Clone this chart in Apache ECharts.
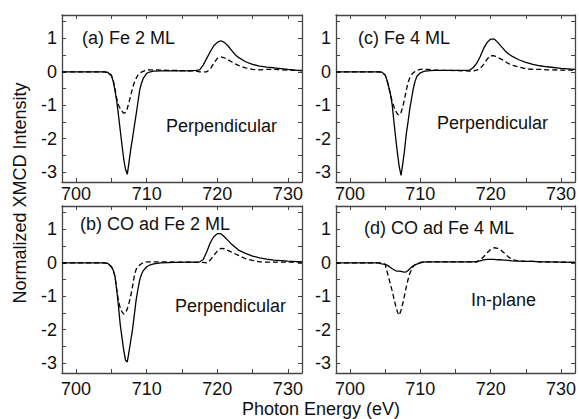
<!DOCTYPE html>
<html>
<head>
<meta charset="utf-8">
<script src="https://cdn.jsdelivr.net/npm/echarts@6/dist/echarts.min.js"></script>
<style>
html,body{margin:0;padding:0;background:#fff;}
#chart{width:579px;height:419px;}
</style>
</head>
<body>
<div id="chart"></div>
<script>
// Photon energy grid (eV)
const energy = [698, 700, 702, 703, 704, 704.5, 705, 705.25, 705.5, 705.75, 706, 706.25, 706.5, 706.75, 707, 707.25, 707.5, 707.75, 708, 708.25, 708.5, 708.75, 709, 709.25, 709.5, 710, 710.5, 711, 712, 714, 716, 717, 717.5, 718, 718.5, 719, 719.5, 720, 720.5, 721, 721.5, 722, 722.5, 723, 724, 725, 726, 727, 728, 730, 732];

// (a) Fe 2 ML, Perpendicular
const aSolid = [0, 0, 0, 0, 0, -0.02, -0.12, -0.28, -0.55, -0.88, -1.3, -1.75, -2.2, -2.62, -2.92, -3.07, -2.7, -2.3, -1.98, -1.62, -1.28, -0.92, -0.55, -0.35, -0.2, -0.05, 0, 0.02, 0.03, 0.03, 0.03, 0.04, 0.06, 0.2, 0.4, 0.6, 0.78, 0.88, 0.93, 0.88, 0.78, 0.65, 0.52, 0.43, 0.3, 0.22, 0.17, 0.14, 0.12, 0.07, 0.03];
const aDashed = [0, 0, 0, 0, 0, -0.02, -0.1, -0.25, -0.5, -0.8, -1.0, -1.1, -1.18, -1.24, -1.22, -1.1, -0.9, -0.7, -0.48, -0.32, -0.2, -0.1, -0.05, -0.01, 0.01, 0.05, 0.06, 0.06, 0.05, 0.04, 0.03, 0.02, 0, 0, 0, 0.08, 0.25, 0.4, 0.45, 0.42, 0.36, 0.3, 0.24, 0.19, 0.12, 0.07, 0.06, 0.07, 0.07, 0.05, 0.04];

// (c) Fe 4 ML, Perpendicular
const cSolid = [0, 0, 0, 0, 0, -0.01, -0.1, -0.25, -0.45, -0.68, -1.0, -1.52, -2.0, -2.45, -2.85, -3.1, -2.75, -2.35, -1.85, -1.5, -1.1, -0.8, -0.5, -0.28, -0.14, -0.03, 0.01, 0.03, 0.04, 0.04, 0.04, 0.05, 0.12, 0.25, 0.45, 0.7, 0.88, 0.98, 0.98, 0.88, 0.76, 0.64, 0.54, 0.47, 0.36, 0.28, 0.22, 0.18, 0.15, 0.1, 0.07];
const cDashed = [0, 0, 0, 0, 0, -0.01, -0.1, -0.25, -0.45, -0.68, -0.9, -1.05, -1.18, -1.27, -1.3, -1.22, -1.05, -0.8, -0.55, -0.32, -0.18, -0.08, -0.03, 0.01, 0.04, 0.07, 0.08, 0.07, 0.05, 0.04, 0.03, 0.02, 0.02, 0.05, 0.1, 0.22, 0.38, 0.48, 0.48, 0.43, 0.38, 0.32, 0.25, 0.2, 0.14, 0.09, 0.07, 0.07, 0.06, 0.05, 0.05];

// (b) CO ad Fe 2 ML, Perpendicular
const bSolid = [0, 0, 0, 0, 0, -0.02, -0.12, -0.22, -0.4, -0.8, -1.3, -1.85, -2.25, -2.62, -2.92, -2.97, -2.65, -2.32, -1.98, -1.55, -1.12, -0.8, -0.52, -0.35, -0.24, -0.12, -0.06, -0.03, 0, 0.01, 0.02, 0.02, 0.03, 0.1, 0.32, 0.6, 0.78, 0.87, 0.87, 0.78, 0.67, 0.56, 0.47, 0.38, 0.28, 0.2, 0.15, 0.11, 0.08, 0.05, 0.03];
const bDashed = [0, 0, 0, 0, 0, -0.02, -0.12, -0.22, -0.4, -0.8, -1.15, -1.35, -1.47, -1.54, -1.5, -1.38, -1.2, -0.98, -0.7, -0.38, -0.2, -0.12, -0.07, -0.03, 0, 0.03, 0.03, 0.03, 0.03, 0.02, 0.02, 0.01, 0.01, 0.01, 0, 0.08, 0.22, 0.35, 0.43, 0.42, 0.37, 0.32, 0.27, 0.22, 0.12, 0.07, 0.03, 0.02, 0.02, 0.02, 0.02];

// (d) CO ad Fe 4 ML, In-plane
const dSolid = [0, 0, 0, 0, 0, -0.03, -0.05, -0.07, -0.1, -0.14, -0.18, -0.21, -0.24, -0.25, -0.25, -0.26, -0.27, -0.28, -0.27, -0.23, -0.18, -0.13, -0.09, -0.06, -0.04, 0, 0.02, 0.03, 0.03, 0.03, 0.03, 0.03, 0.03, 0.04, 0.06, 0.09, 0.1, 0.1, 0.1, 0.09, 0.09, 0.08, 0.07, 0.06, 0.05, 0.04, 0.04, 0.03, 0.03, 0.02, 0.01];
const dDashed = [0, 0, 0, 0, 0, 0, -0.05, -0.25, -0.45, -0.65, -0.85, -1.08, -1.3, -1.48, -1.57, -1.42, -1.22, -0.97, -0.72, -0.5, -0.32, -0.2, -0.1, -0.06, -0.03, 0.01, 0.03, 0.03, 0.03, 0.03, 0.03, 0.03, 0.02, 0.02, 0.08, 0.18, 0.3, 0.4, 0.45, 0.43, 0.37, 0.28, 0.18, 0.1, 0.05, 0.04, 0.04, 0.03, 0.03, 0.02, 0.01];

// Ticks and labels
const xTickLabels = [700, 710, 720, 730];
const xTicks = [700, 705, 710, 715, 720, 725, 730];
const yTickLabels = [-3, -2, -1, 0, 1];
const yTicks = [-3, -2.5, -2, -1.5, -1, -0.5, 0, 0.5, 1, 1.5];

const panelTitles = ['(a) Fe 2 ML', '(c) Fe 4 ML', '(b) CO ad Fe 2 ML', '(d) CO ad Fe 4 ML'];
const panelNotes = ['Perpendicular', 'Perpendicular', 'Perpendicular', 'In-plane'];
const panelSeries = [[aSolid, aDashed], [cSolid, cDashed], [bSolid, bDashed], [dSolid, dDashed]];

const FONT = '"Liberation Sans", Arial, Helvetica, sans-serif';
const frameColor = '#444';

const gridPos = [
  {left: 62, top: 15}, {left: 336, top: 15},
  {left: 62, top: 206}, {left: 336, top: 206}
];
const labelMargin = [3, 3, 7, 7];

const grid = [], xAxis = [], yAxis = [], series = [];
gridPos.forEach((g, i) => {
  grid.push({left: g.left, top: g.top, width: 240, height: 167, show: false});
  const lineStyle = {color: frameColor, width: 1.3};
  const tickStyle = {color: frameColor, width: 1};
  xAxis.push({
    type: 'value', gridIndex: i, position: 'bottom', min: 698, max: 732,
    axisLine: {show: true, onZero: false, lineStyle},
    axisTick: {show: true, inside: true, length: 4, customValues: xTicks, lineStyle: tickStyle},
    axisLabel: {customValues: xTickLabels, fontSize: 18, fontFamily: FONT, color: '#111', margin: labelMargin[i]},
    splitLine: {show: false}
  });
  xAxis.push({
    type: 'value', gridIndex: i, position: 'top', min: 698, max: 732,
    axisLine: {show: true, onZero: false, lineStyle},
    axisTick: {show: true, inside: true, length: 4, customValues: xTicks, lineStyle: tickStyle},
    axisLabel: {show: false},
    splitLine: {show: false}
  });
  yAxis.push({
    type: 'value', gridIndex: i, position: 'left', min: -3.3, max: 1.7,
    axisLine: {show: true, onZero: false, lineStyle},
    axisTick: {show: true, inside: true, length: 4, customValues: yTicks, lineStyle: tickStyle},
    axisLabel: {customValues: yTickLabels, fontSize: 18, fontFamily: FONT, color: '#111', margin: 5},
    splitLine: {show: false}
  });
  yAxis.push({
    type: 'value', gridIndex: i, position: 'right', min: -3.3, max: 1.7,
    axisLine: {show: true, onZero: false, lineStyle},
    axisTick: {show: true, inside: true, length: 4, customValues: yTicks, lineStyle: tickStyle},
    axisLabel: {show: false},
    splitLine: {show: false}
  });
  const [solid, dashed] = panelSeries[i];
  series.push({
    type: 'line', xAxisIndex: 2 * i, yAxisIndex: 2 * i, showSymbol: false, silent: true,
    data: energy.map((e, k) => [e, dashed[k]]),
    lineStyle: {color: '#000', width: 1.3, type: [5, 3]}
  });
  series.push({
    type: 'line', xAxisIndex: 2 * i, yAxisIndex: 2 * i, showSymbol: false, silent: true,
    data: energy.map((e, k) => [e, solid[k]]),
    lineStyle: {color: '#000', width: 1.3, type: 'solid'}
  });
});

const titlePos = [[82, 38], [358, 38], [80, 224], [364, 228]];
const notePos = [[166, 126], [437, 123], [175, 306], [471, 300]];
const graphic = [];
panelTitles.forEach((t, i) => {
  graphic.push({type: 'text', x: titlePos[i][0], y: titlePos[i][1],
    style: {text: t, font: '18px ' + FONT, fill: '#111', verticalAlign: 'middle', align: 'left'}});
  graphic.push({type: 'text', x: notePos[i][0], y: notePos[i][1],
    style: {text: panelNotes[i], font: '18px ' + FONT, fill: '#111', verticalAlign: 'middle', align: 'left'}});
});
graphic.push({type: 'text', x: 20, y: 193, rotation: Math.PI / 2,
  style: {text: 'Normalized XMCD Intensity', font: '18px ' + FONT, fill: '#111', verticalAlign: 'middle', align: 'center'}});
graphic.push({type: 'text', x: 321, y: 409,
  style: {text: 'Photon Energy (eV)', font: '18px ' + FONT, fill: '#111', verticalAlign: 'middle', align: 'center'}});

const chart = echarts.init(document.getElementById('chart'), null, {renderer: 'svg'});
chart.setOption({
  animation: false,
  backgroundColor: '#fff',
  grid, xAxis, yAxis, series, graphic
});
</script>
</body>
</html>
